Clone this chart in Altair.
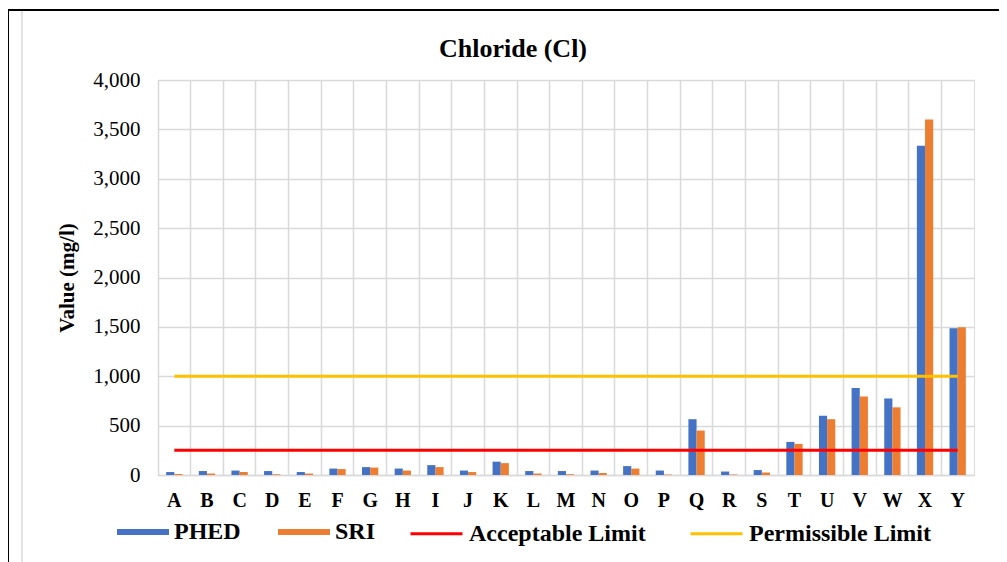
import altair as alt
import pandas as pd

categories = list("ABCDEFGHIJKLMNOPQRSTUVWXY")
phed = [30, 40, 45, 40, 30, 65, 80, 65, 100, 45, 135, 40, 40, 45, 90, 45, 565, 35, 50, 335, 600, 880, 775, 3335, 1485]
sri = [10, 15, 30, 8, 15, 60, 75, 45, 80, 30, 120, 15, 8, 20, 65, 5, 450, 5, 25, 315, 565, 795, 685, 3600, 1495]
series_names = ["PHED", "SRI"]
series_colors = ["#4472C4", "#ED7D31"]
limit_names = ["Acceptable Limit", "Permissible Limit"]
limit_values = [250, 1000]
limit_colors = ["#FF0000", "#FFC000"]
y_ticks = [0, 500, 1000, 1500, 2000, 2500, 3000, 3500, 4000]
title_text = "Chloride (Cl)"

bars_df = pd.DataFrame(
    [{"cat": c, "series": "PHED", "value": v} for c, v in zip(categories, phed)]
    + [{"cat": c, "series": "SRI", "value": v} for c, v in zip(categories, sri)]
)
lines_df = pd.DataFrame(
    [{"cat": c, "limit": n, "value": v} for n, v in zip(limit_names, limit_values) for c in categories]
)

W, H = 816, 395
FONT = "Liberation Serif"

x_axis = alt.Axis(
    title=None, labelAngle=0, labelFont=FONT, labelFontSize=20, labelFontWeight="bold",
    labelColor="#000", ticks=False, tickSize=0, labelPadding=15, grid=True, bandPosition=0,
    gridColor="#d9d9d9", gridWidth=1.5, domainColor="#d9d9d9", domainWidth=1.5,
)
x_enc = alt.X("cat:N", sort=categories, axis=x_axis,
              scale=alt.Scale(paddingInner=0, paddingOuter=0))

y_axis = alt.Axis(
    title="Value (mg/l)", values=y_ticks, format=",d", labelFont=FONT, labelFontSize=21,
    labelColor="#000", ticks=False, tickSize=0, labelPadding=18, domain=False,
    gridColor="#d9d9d9", gridWidth=1.5, titleFont=FONT, titleFontSize=21,
    titleFontWeight="bold", titleColor="#000", titlePadding=15,
)
y_enc = alt.Y("value:Q", axis=y_axis, scale=alt.Scale(domain=[0, 4000], nice=False))

bars = alt.Chart(bars_df).mark_bar().encode(
    x=x_enc,
    xOffset=alt.XOffset("series:N", sort=series_names,
                        scale=alt.Scale(paddingInner=0, paddingOuter=1.0)),
    y=y_enc,
    color=alt.Color(
        "series:N", sort=series_names,
        scale=alt.Scale(domain=series_names, range=series_colors),
        legend=alt.Legend(
            orient="none", legendX=-41, legendY=426, direction="horizontal", title=None,
            symbolType="M-1,-0.115H1V0.115H-1Z", symbolSize=2704, symbolStrokeWidth=0,
            labelFont=FONT, labelFontSize=24, labelFontWeight="bold", labelColor="#000",
            labelOffset=5, columnPadding=37, labelLimit=400, padding=0,
        ),
    ),
)

lines = alt.Chart(lines_df).mark_line(strokeWidth=3).encode(
    x=alt.X("cat:N", sort=categories),
    y=alt.Y("value:Q"),
    stroke=alt.Stroke(
        "limit:N", sort=limit_names,
        scale=alt.Scale(domain=limit_names, range=limit_colors),
        legend=alt.Legend(
            orient="none", legendX=251, legendY=426, direction="horizontal", title=None,
            symbolType="stroke", symbolSize=2704, symbolStrokeWidth=3,
            labelFont=FONT, labelFontSize=24, labelFontWeight="bold", labelColor="#000",
            labelOffset=5, columnPadding=38, labelLimit=400, padding=0,
        ),
    ),
    detail="limit:N",
)

one = pd.DataFrame({"k": [0]})
title_df = pd.DataFrame({"t": [title_text]})
title_mark = alt.Chart(title_df).mark_text(
    font=FONT, fontSize=26, fontWeight="bold", color="#000", align="center", baseline="alphabetic"
).encode(text="t:N", x=alt.value(355), y=alt.value(-23))

frame_top = alt.Chart(one).mark_rule(color="#000", strokeWidth=2).encode(
    x=alt.value(-150), x2=alt.value(W + 40), y=alt.value(-70))
frame_left = alt.Chart(one).mark_rule(color="#000", strokeWidth=2).encode(
    x=alt.value(-150), y=alt.value(-70), y2=alt.value(H + 100))
frame_gray = alt.Chart(one).mark_rule(color="#d9d9d9", strokeWidth=1.5).encode(
    x=alt.value(-136), y=alt.value(-69), y2=alt.value(H + 100))

chart = alt.layer(frame_gray, frame_top, frame_left, title_mark, bars, lines).properties(
    width=W, height=H,
    autosize="none",
    padding={"left": 150, "top": 72, "right": 25, "bottom": 87},
).configure_view(
    stroke="#d9d9d9", strokeWidth=1.5
).configure(background="white")

chart.save("out.html", embed_options={"renderer": "svg", "actions": False})
